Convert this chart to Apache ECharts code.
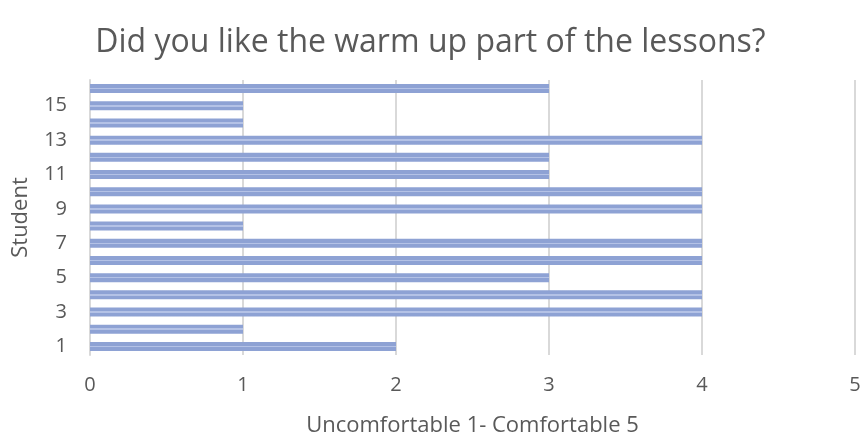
<!DOCTYPE html>
<html><head><meta charset="utf-8">
<script src="https://cdn.jsdelivr.net/npm/echarts@6/dist/echarts.min.js"></script>
<style>html,body{margin:0;padding:0;background:#fff}#c{width:861px;height:437px}</style>
</head><body><div id="c"></div>
<script>
const students = ['1','2','3','4','5','6','7','8','9','10','11','12','13','14','15','16'];
const ratings = [2,1,4,4,3,4,4,1,4,4,3,3,4,1,1,3];
const xTicks = [0,1,2,3,4,5];
const titleText = 'Did you like the warm up part of the lessons?';
const xName = 'Uncomfortable 1- Comfortable 5';
const yName = 'Student';

const chart = echarts.init(document.getElementById('c'));
const font = 'Open Sans';
chart.setOption({
  animation:false,
  title:{text:titleText,left:'center',top:22,textStyle:{fontFamily:font,fontSize:32,fontWeight:'normal',color:'#595959'}},
  grid:{left:90,right:6,top:80,bottom:82,containLabel:false,outerBoundsMode:'none'},
  xAxis:{type:'value',min:xTicks[0],max:xTicks[xTicks.length-1],interval:1,
    name:xName,nameLocation:'middle',nameGap:60,
    nameTextStyle:{fontFamily:font,fontSize:22,color:'#595959'},
    axisLine:{show:false},axisTick:{show:false},
    axisLabel:{fontFamily:font,fontSize:20,color:'#595959',margin:20},
    splitLine:{show:true,lineStyle:{color:'#d9d9d9',width:2}}},
  yAxis:{type:'category',data:students,
    name:yName,nameLocation:'middle',nameGap:58,nameRotate:90,
    nameTextStyle:{fontFamily:font,fontSize:22,color:'#595959'},
    axisLine:{show:true,lineStyle:{color:'#d9d9d9',width:2}},axisTick:{show:false},
    axisLabel:{fontFamily:font,fontSize:20,color:'#595959',interval:1,margin:23}},
  series:[{type:'bar',data:ratings,barWidth:9,
    itemStyle:{color:new echarts.graphic.LinearGradient(0,0,0,1,[
      {offset:0,color:'#8ea2d4'},{offset:0.42,color:'#8ea2d4'},
      {offset:0.42,color:'#b4c2e6'},{offset:0.58,color:'#b4c2e6'},
      {offset:0.58,color:'#8ea2d4'},{offset:1,color:'#8ea2d4'}])}}]
});
</script></body></html>
